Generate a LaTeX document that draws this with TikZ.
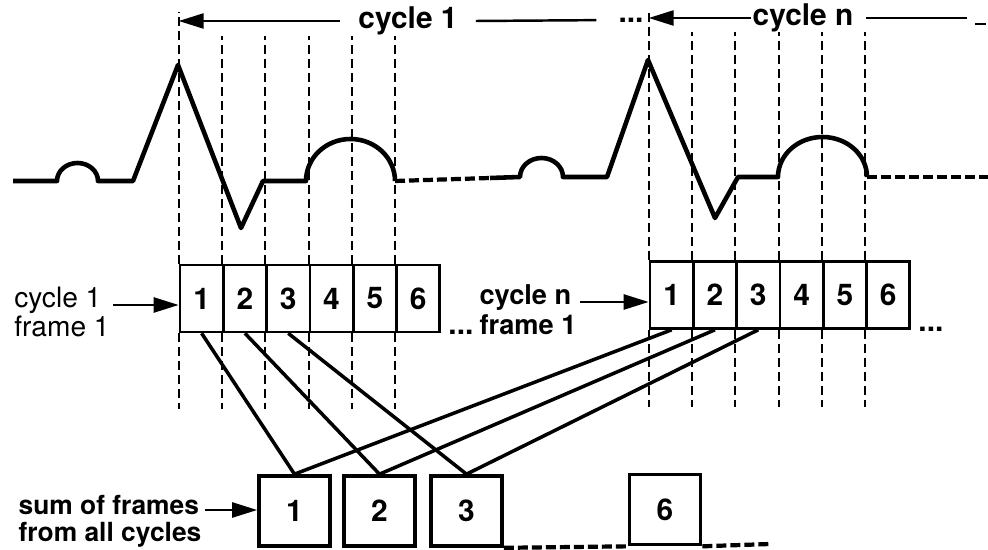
\documentclass[tikz,border=0pt]{standalone}
\usepackage{fontspec}
\setmainfont{TeX Gyre Heros}
\usetikzlibrary{calc,arrows.meta}

\tikzset{
  wave/.style = {line width=2.6pt, line join=round},
  gap/.style = {line width=2.4pt, dash pattern=on 0.2cm off 0.08cm},
  guide/.style = {line width=1.2pt, dash pattern=on 0.18cm off 0.1cm},
  cell/.style = {draw, line width=1.5pt, minimum width=0.866cm, minimum height=1.34cm,
                 inner sep=0pt, font=\bfseries\fontsize{17}{19}\selectfont},
  sumbox/.style = {draw, line width=2.1pt, minimum width=1.42cm, minimum height=1.4cm,
                   inner sep=0pt, font=\bfseries\fontsize{17}{19}\selectfont},
  lbl/.style = {align=left, inner sep=2pt, font=\fontsize{16}{17}\selectfont},
  bold/.style = {font=\bfseries\fontsize{17}{17}\selectfont},
  tip/.style = {-{Triangle[length=0.5cm,width=0.3cm]}, line width=1.4pt},
  link/.style = {line width=2pt}
}

\begin{document}
\begin{tikzpicture}[x=0.02cm, y=0.02cm]
    \useasboundingbox (0,0) rectangle (988,-550);
    % ecg, cycle 1
    \draw [wave] (13,-181) -- (57,-181) arc[start angle=180, end angle=0, x radius=20.5, y radius=18]
                 -- (133,-181) -- (178,-65) -- (241,-228) -- (263,-181) -- (306,-181)
                 arc[start angle=180, end angle=0, x radius=44.5, y radius=42];
    \draw [gap] (395,-181) -- (490,-178);
    % ecg, cycle n
    \draw [wave] (490,-178) -- (520,-177) arc[start angle=180, end angle=0, x radius=21.5, y radius=19]
                 -- (607,-177) -- (648,-60) -- (715,-218) -- (738,-177) -- (778,-177)
                 arc[start angle=180, end angle=0, x radius=44.5, y radius=40];
    \draw [gap] (867,-177) -- (988,-177);

    % frames of one cycle
    \foreach \i in {1,...,6} {
        \node [cell] (a\i) at (158.35+43.3*\i,-298.5) {\i};
        \node [cell] (b\i) at (628.35+43.3*\i,-295) {\i};
        \draw [guide] (a\i.south west) -- ++(0,-76);
        \draw [guide] (b\i.south west) -- ++(0,-77);
    }
    \foreach \i in {2,...,6} {
        \draw [guide] (a\i.north west) -- ++(0,228);
        \draw [guide] (b\i.north west) -- ++(0,228);
    }
    \draw [guide] (a1.north west) -- ++(0,252);
    \draw [guide] (b1.north west) -- ++(0,249);
    \node [anchor=south west, inner sep=0pt, bold] at ([xshift=4,yshift=-1]a6.south east) {...};
    \node [anchor=south west, inner sep=0pt, bold] at ([xshift=4,yshift=-1]b6.south east) {...};

    % cycle lengths
    \node [bold, inner xsep=0.36cm] (t1) at (408,-21) {cycle 1};
    \node [bold, inner sep=1pt] (dots1) at (631,-20) {...};
    \draw [tip] (t1.west) -- (t1.west -| a1.north west);
    \draw [line width=1.4pt, shorten >=0.4cm] (t1.east) -- (dots1.west);
    \node [bold, inner xsep=1pt] (tn) at (803,-18) {cycle n};
    \coordinate (tend) at (967,-18);
    \draw [tip] (tn.west) -- (tn.west -| b1.north west);
    \draw [line width=1.4pt, shorten <=0.22cm] (tn.east) -- (tend);
    \draw [line width=1.4pt] (975,-24) -- (986,-24);

    % labels
    \node [lbl] (l1) at (62,-312) {cycle 1\\frame 1};
    \draw [tip] (l1.east |- 0,-305) -- (a1.west |- 0,-305);
    \node [lbl, font=\bfseries\fontsize{15.5}{17}\selectfont] (ln) at (528,-310) {cycle n\\frame 1};
    \draw [tip] (ln.east |- 0,-302) -- (b1.west |- 0,-302);

    % sums
    \node [sumbox] (s1) at (294.5,-511) {1};
    \node [sumbox] (s2) at (379.5,-511) {2};
    \node [sumbox] (s3) at (466.5,-511) {3};
    \node [sumbox] (s6) at (665,-509.5) {6};
    \coordinate (send) at (770,-544);
    \draw [gap] (s3.south east) -- (s6.south west);
    \draw [gap] (s6.south east) -- (send);
    \node [lbl, font=\bfseries\fontsize{15}{15.5}\selectfont] (ls) at (110,-521) {sum of frames\\from all cycles};
    \draw [tip] (ls.east |- 0,-510) -- (s1.west |- 0,-510);

    % frames summed over cycles
    \foreach \i in {1,2,3} {
        \draw [link] (a\i.south) -- (s\i.north);
        \draw [link] (b\i.south) -- (s\i.north);
    }
\end{tikzpicture}
\end{document}
